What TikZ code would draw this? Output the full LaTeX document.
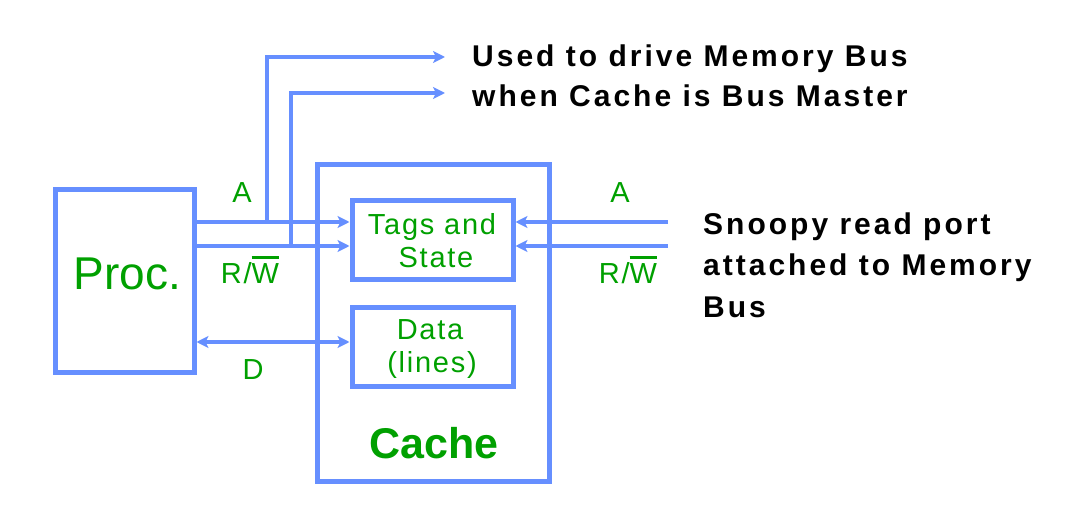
\documentclass[tikz,border=0pt]{standalone}
\usepackage{fontspec}
\setmainfont{Liberation Sans}
\newfontfamily\grfont[LetterSpace=6]{Liberation Sans}
\newfontfamily\bkfont[LetterSpace=10]{Liberation Sans}
\usetikzlibrary{arrows.meta}
\definecolor{wireblue}{RGB}{102,143,255}
\definecolor{lblgreen}{RGB}{0,160,0}
\newcommand\barW{\vbox{\hrule height 3bp\kern 5bp\hbox{W}}}
\begin{document}
\begin{tikzpicture}[x=1bp,y=-1bp,
  blockbox/.style={draw=wireblue,line width=5bp,inner sep=0pt,minimum width=#1},
  sig/.style={draw=wireblue,line width=4.5bp},
  tipa/.tip={Stealth[length=12bp,width=12bp,inset=3bp]},
  glbl/.style={inner sep=0pt,anchor=base,text=lblgreen,font=\grfont\fontsize{29bp}{33bp}\selectfont},
  blbl/.style={inner sep=0pt,anchor=base west,text=black,font=\bkfont\bfseries\fontsize{30bp}{41bp}\selectfont},
  bigreg/.style={inner sep=0pt,anchor=base,text=lblgreen,font=\fontsize{46bp}{50bp}\selectfont},
  bigbold/.style={inner sep=0pt,anchor=base,text=lblgreen,font=\bfseries\fontsize{43bp}{48bp}\selectfont}]
\useasboundingbox (0,0) rectangle (1080,516);
% blocks
\node[blockbox=138bp,minimum height=182bp] (proc) at (125,281) {};
\node[blockbox=232bp,minimum height=316bp] (cache) at (433,323) {};
\node[blockbox=161bp,minimum height=79bp] (tags) at (432.5,240.5) {};
\node[blockbox=161bp,minimum height=78bp] (data) at (432.5,347) {};
% coordinates
\coordinate (ja) at (267,222);
\coordinate (jr) at (291,246);
\coordinate (dy) at (0,342);
\coordinate (outA) at (445,57);
\coordinate (outR) at (445,93);
\coordinate (snA) at (668,222);
\coordinate (snR) at (668,246);
% wires
\draw[sig,-tipa] (proc.east |- ja) -- (tags.west |- ja);
\draw[sig,-tipa] (proc.east |- jr) -- (tags.west |- jr);
\draw[sig,-tipa] (ja) |- (outA);
\draw[sig,-tipa] (jr) |- (outR);
\draw[sig,tipa-tipa] (proc.east |- dy) -- (data.west |- dy);
\draw[sig,-tipa] (snA) -- (tags.east |- snA);
\draw[sig,-tipa] (snR) -- (tags.east |- snR);
% green labels
\node[glbl] (lA) at (242,203) {A};
\node[glbl] (lRW) at (250,284) {R/\barW};
\node[glbl] (lD) at (253,380) {D};
\node[glbl] (rA) at (620,203) {A};
\node[glbl] (rRW) at (628,284) {R/\barW};
\node[glbl] (tg1) at (432,235) {Tags and};
\node[glbl] (tg2) at (436,268) {State};
\node[glbl] (dt1) at (430,340) {Data};
\node[glbl] (dt2) at (432,373) {(lines)};
\node[bigreg] (ptxt) at (127.5,290) {Proc.};
\node[bigbold] (ctxt) at (434,458) {Cache};
% black notes
\node[blbl] (n1) at (472,67) {Used to drive Memory Bus};
\node[blbl] (n2) at (472,107) {when Cache is Bus Master};
\node[blbl] (s1) at (703,235) {Snoopy read port};
\node[blbl] (s2) at (703,276) {attached to Memory};
\node[blbl] (s3) at (703,318) {Bus};
\end{tikzpicture}
\end{document}
